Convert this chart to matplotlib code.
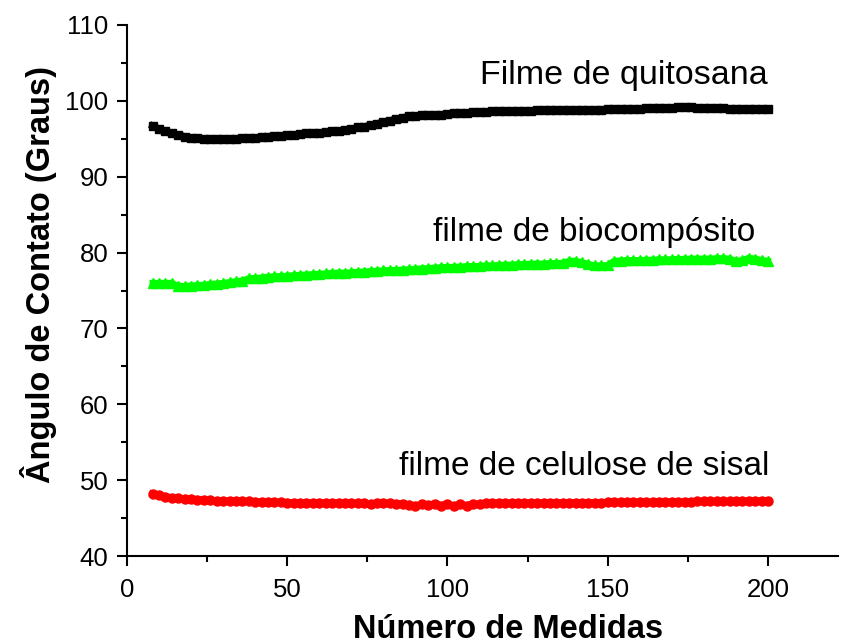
import matplotlib
matplotlib.use("Agg")
import matplotlib.pyplot as plt
from matplotlib.ticker import MultipleLocator

# measurement number (every second measurement)
medidas = list(range(8, 201, 2))

quitosana = [
    96.7, 96.3, 96.0, 95.7, 95.5, 95.3, 95.15, 95.05, 95.0, 95.0,
    95.0, 95.0, 95.0, 95.0, 95.05, 95.1, 95.15, 95.2, 95.3, 95.35,
    95.4, 95.5, 95.55, 95.6, 95.7, 95.75, 95.8, 95.9, 96.0, 96.05,
    96.2, 96.3, 96.5, 96.6, 96.8, 97.0, 97.2, 97.4, 97.6, 97.8,
    97.95, 98.05, 98.1, 98.15, 98.15, 98.1, 98.3, 98.35, 98.4, 98.45,
    98.5, 98.55, 98.55, 98.6, 98.6, 98.65, 98.65, 98.7, 98.7, 98.7,
    98.75, 98.75, 98.75, 98.8, 98.8, 98.8, 98.8, 98.8, 98.85, 98.85,
    98.85, 98.9, 98.9, 98.9, 98.95, 98.95, 98.95, 99.0, 99.0, 99.0,
    99.05, 99.1, 99.15, 99.2, 99.15, 99.1, 99.05, 99.0, 99.0, 99.0,
    98.95, 98.95, 98.95, 98.95, 98.95, 98.95, 98.95,
]

biocomposito = [
    76.0, 76.0, 76.0, 76.0, 75.6, 75.6, 75.65, 75.7, 75.75, 75.85,
    75.9, 76.0, 76.1, 76.2, 76.3, 76.6, 76.65, 76.7, 76.8, 76.85,
    76.9, 76.95, 77.0, 77.05, 77.1, 77.15, 77.2, 77.25, 77.3, 77.35,
    77.35, 77.4, 77.45, 77.5, 77.55, 77.6, 77.65, 77.7, 77.7, 77.75,
    77.8, 77.85, 77.9, 77.95, 78.0, 78.05, 78.1, 78.1, 78.15, 78.2,
    78.2, 78.25, 78.3, 78.3, 78.35, 78.4, 78.4, 78.45, 78.5, 78.5,
    78.55, 78.55, 78.6, 78.6, 78.65, 78.9, 78.9, 78.7, 78.5, 78.3,
    78.3, 78.35, 78.9, 78.95, 79.0, 79.0, 79.0, 79.05, 79.05, 79.1,
    79.1, 79.1, 79.15, 79.15, 79.2, 79.2, 79.2, 79.2, 79.25, 79.25,
    79.2, 78.9, 79.0, 79.3, 79.2, 79.0, 78.9,
]

celulose = [
    48.2, 48.0, 47.8, 47.7, 47.6, 47.55, 47.5, 47.45, 47.4, 47.35,
    47.3, 47.3, 47.25, 47.25, 47.2, 47.2, 47.15, 47.15, 47.1, 47.1,
    47.1, 47.05, 47.05, 47.05, 47.0, 47.0, 47.0, 47.0, 47.0, 47.0,
    47.0, 46.95, 46.95, 46.95, 46.8, 46.95, 46.95, 46.95, 46.9, 46.9,
    46.75, 46.6, 46.85, 46.7, 46.9, 46.65, 46.85, 46.6, 46.8, 46.65,
    46.9, 46.8, 46.95, 46.95, 46.95, 46.95, 47.0, 47.0, 47.0, 47.0,
    47.0, 47.0, 47.0, 47.0, 47.05, 47.05, 47.05, 47.05, 47.05, 47.05,
    47.05, 47.1, 47.1, 47.1, 47.1, 47.1, 47.1, 47.1, 47.1, 47.15,
    47.15, 47.15, 47.15, 47.15, 47.15, 47.2, 47.2, 47.2, 47.2, 47.2,
    47.2, 47.25, 47.25, 47.25, 47.25, 47.3, 47.3,
]

rotulos = ["Filme de quitosana", "filme de biocompósito", "filme de celulose de sisal"]

plt.rcParams["font.family"] = ["Liberation Sans", "DejaVu Sans"]

fig = plt.figure(figsize=(8.41, 6.44), dpi=100)
ax = fig.add_axes([0.151, 0.1366, 0.846, 0.8246])

ax.plot(medidas, quitosana, color="black", marker="s", ms=6, lw=5)
ax.plot(medidas, biocomposito, color="#00ff00", marker="^", ms=6.5, lw=4.5)
ax.plot(medidas, celulose, color="red", marker="o", ms=6.5, lw=5)

ax.text(200, 103.3, rotulos[0], ha="right", va="center", fontsize=24.5)
ax.text(196, 82.6, rotulos[1], ha="right", va="center", fontsize=24)
ax.text(200.3, 51.8, rotulos[2], ha="right", va="center", fontsize=24)

ax.set_xlim(0, 222)
ax.set_ylim(40, 110)
ax.xaxis.set_major_locator(MultipleLocator(50))
ax.xaxis.set_minor_locator(MultipleLocator(25))
ax.yaxis.set_major_locator(MultipleLocator(10))
ax.yaxis.set_minor_locator(MultipleLocator(5))
ax.tick_params(which="major", direction="out", length=7.5, width=1.5, labelsize=18.5)
ax.tick_params(which="minor", direction="out", length=4.5, width=1.5)
ax.tick_params(axis="x", pad=8)
ax.tick_params(axis="y", pad=6)

for side in ["top", "right"]:
    ax.spines[side].set_visible(False)
for side in ["left", "bottom"]:
    ax.spines[side].set_linewidth(1.5)

ax.set_xlabel("Número de Medidas", fontsize=23.5, fontweight="bold")
ax.set_ylabel("Ângulo de Contato (Graus)", fontsize=23.5, fontweight="bold")
ax.xaxis.set_label_coords(0.535, -0.109)
ax.yaxis.set_label_coords(-0.098, 0.53)

fig.savefig("out.png", dpi=100)
